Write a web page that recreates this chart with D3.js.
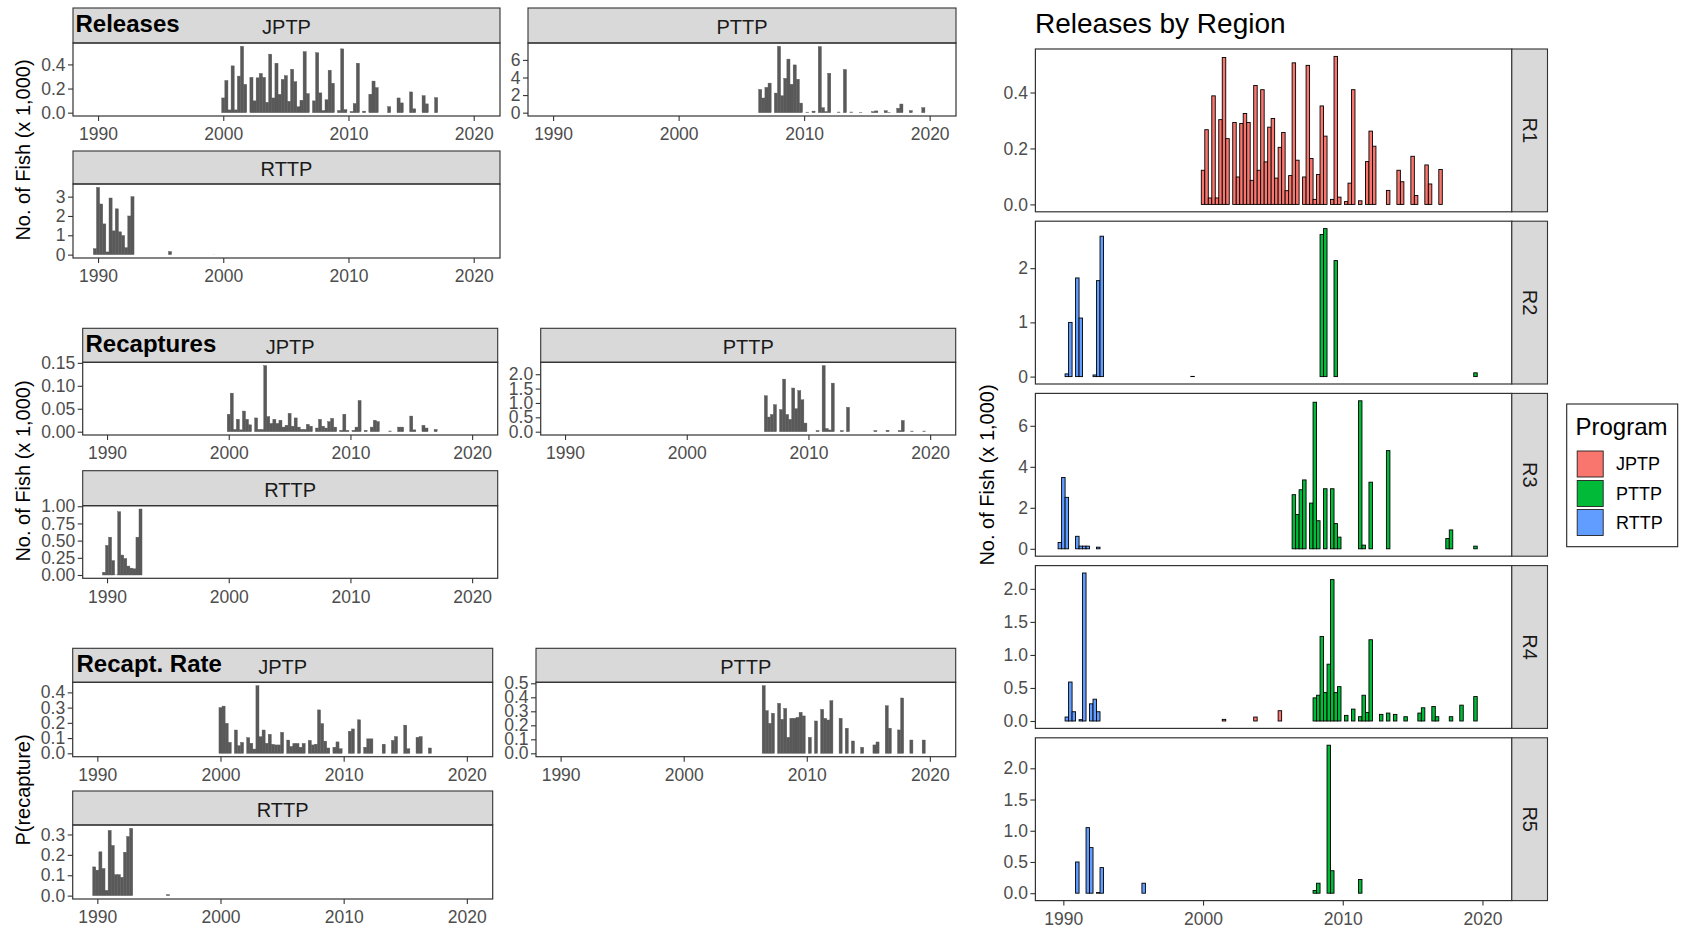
<!DOCTYPE html>
<html><head><meta charset="utf-8">
<script src="https://cdn.jsdelivr.net/npm/d3@7"></script>
<style>
body{margin:0;background:#fff;}
text{font-family:"Liberation Sans",Arial,Helvetica,sans-serif;}
</style></head><body>
<svg id="c" width="1687" height="930"></svg>
<script>
// ---------------- DATA ----------------
const xTickYears = [1990, 2000, 2010, 2020];
const programs = ["JPTP", "PTTP", "RTTP"];
const programColors = ["#F8766D", "#00BA38", "#619CFF"];
const regions = ["R1", "R2", "R3", "R4", "R5"];

// Releases by region (x 1,000 fish): [quarter time, value]
const relR1_JPTP = [[2000.0,0.122],[2000.25,0.267],[2000.5,0.023],[2000.75,0.388],[2001.0,0.023],[2001.25,0.303],[2001.5,0.525],[2001.75,0.235],
 [2002.25,0.293],[2002.5,0.098],[2002.75,0.289],[2003.0,0.325],[2003.25,0.293],[2003.5,0.086],[2003.75,0.425],[2004.0,0.122],[2004.25,0.41],
 [2004.5,0.152],[2004.75,0.276],[2005.0,0.307],[2005.25,0.094],[2005.5,0.204],[2005.75,0.257],[2006.0,0.049],[2006.25,0.103],[2006.5,0.506],
 [2006.75,0.158],[2007.25,0.098],[2007.5,0.497],[2007.75,0.164],[2008.0,0.018],[2008.25,0.107],[2008.5,0.352],[2008.75,0.244],[2009.25,0.018],
 [2009.5,0.529],[2009.75,0.026],[2010.25,0.01],[2010.5,0.076],[2010.75,0.41],[2011.25,0.013],[2011.75,0.153],[2012.0,0.262],[2012.25,0.208],
 [2013.25,0.05],[2014.0,0.122],[2014.25,0.081],[2015.0,0.172],[2015.25,0.032],[2016.0,0.141],[2016.25,0.073],[2017.0,0.125]];
const relR4_JPTP = [[2001.5,0.025],[2003.75,0.06],[2005.5,0.156]];
const relR2_RTTP = [[1990.25,0.05],[1990.5,1.0],[1991.0,1.82],[1991.25,1.08],[1992.25,0.03],[1992.5,1.77],[1992.75,2.59],[1999.25,0.004]];
const relR3_RTTP = [[1989.75,0.31],[1990.0,3.48],[1990.25,2.51],[1991.0,0.61],[1991.25,0.13],[1991.5,0.13],[1991.75,0.13],[1992.5,0.08]];
const relR4_RTTP = [[1990.25,0.06],[1990.5,0.59],[1990.75,0.14],[1991.25,0.02],[1991.5,2.24],[1992.0,0.26],[1992.25,0.33],[1992.5,0.14]];
const relR5_RTTP = [[1991.0,0.5],[1991.75,1.05],[1992.0,0.73],[1992.5,0.01],[1992.75,0.41],[1995.75,0.16]];
const relR2_PTTP = [[2008.5,2.62],[2008.75,2.73],[2009.5,2.14],[2019.5,0.07]];
const relR3_PTTP = [[2006.5,2.64],[2006.75,1.67],[2007.0,2.88],[2007.25,3.36],[2007.75,2.23],[2008.0,7.15],[2008.25,1.37],[2008.75,2.93],
 [2009.25,2.93],[2009.5,1.23],[2009.75,0.57],[2011.25,7.22],[2011.5,0.18],[2012.0,3.25],[2013.25,4.79],[2017.5,0.5],[2017.75,0.92],[2019.5,0.13]];
const relR4_PTTP = [[2008.0,0.35],[2008.25,0.39],[2008.5,1.28],[2008.75,0.43],[2009.0,0.86],[2009.25,2.14],[2009.5,0.43],[2009.75,0.52],
 [2010.25,0.085],[2010.75,0.18],[2011.25,0.065],[2011.5,0.39],[2011.75,0.13],[2012.0,1.23],[2012.75,0.1],[2013.25,0.12],[2013.75,0.1],
 [2014.5,0.065],[2015.5,0.12],[2015.75,0.2],[2016.5,0.22],[2016.75,0.065],[2017.75,0.065],[2018.5,0.24],[2019.5,0.37]];
const relR5_PTTP = [[2008.0,0.043],[2008.25,0.16],[2009.0,2.37],[2009.25,0.36],[2011.25,0.22]];

// Recaptures (x 1,000 fish)
const recJPTP = [[2000.0,0.038],[2000.25,0.084],[2000.5,0.005],[2000.75,0.027],[2001.0,0.004],[2001.25,0.045],[2001.5,0.027],[2001.75,0.015],
 [2002.25,0.03],[2002.5,0.005],[2002.75,0.005],[2003.0,0.144],[2003.25,0.033],[2003.5,0.018],[2003.75,0.027],[2004.0,0.018],[2004.25,0.025],
 [2004.5,0.01],[2004.75,0.014],[2005.0,0.04],[2005.25,0.012],[2005.5,0.03],[2005.75,0.01],[2006.0,0.005],[2006.25,0.005],[2006.5,0.016],
 [2006.75,0.012],[2007.25,0.008],[2007.5,0.027],[2007.75,0.012],[2008.0,0.008],[2008.25,0.022],[2008.5,0.029],[2008.75,0.01],[2009.25,0.003],
 [2009.5,0.038],[2009.75,0.003],[2010.25,0.003],[2010.5,0.01],[2010.75,0.068],[2011.25,0.003],[2011.75,0.01],[2012.0,0.025],[2012.25,0.022],
 [2013.25,0.002],[2014.0,0.01],[2014.25,0.01],[2015.0,0.034],[2015.25,0.004],[2016.0,0.014],[2016.25,0.008],[2017.0,0.005]];
const recPTTP = [[2006.5,1.25],[2006.75,0.51],[2007.0,0.6],[2007.25,0.94],[2007.75,0.77],[2008.0,1.83],[2008.25,0.6],[2008.5,0.43],[2008.75,1.52],
 [2009.0,0.8],[2009.25,1.43],[2009.5,1.11],[2009.75,0.3],[2010.75,0.04],[2011.25,2.3],[2011.5,0.11],[2011.75,0.06],[2012.0,1.69],[2012.75,0.04],
 [2013.25,0.85],[2015.5,0.04],[2016.5,0.05],[2017.5,0.04],[2017.75,0.39],[2018.5,0.03],[2019.5,0.03]];
const recRTTP = [[1989.75,0.04],[1990.0,0.43],[1990.25,0.55],[1990.5,0.21],[1990.75,0.004],[1991.0,0.92],[1991.25,0.29],[1991.5,0.24],
 [1991.75,0.13],[1992.0,0.1],[1992.25,0.09],[1992.5,0.55],[1992.75,0.96]];

// Recapture rate P(recapture)
const rateJPTP = [[2000.0,0.30],[2000.25,0.31],[2000.5,0.197],[2000.75,0.072],[2001.25,0.153],[2001.5,0.05],[2001.75,0.072],[2002.25,0.103],
 [2002.5,0.066],[2002.75,0.028],[2003.0,0.444],[2003.25,0.109],[2003.5,0.153],[2003.75,0.066],[2004.0,0.125],[2004.25,0.059],[2004.5,0.055],
 [2004.75,0.055],[2005.0,0.138],[2005.5,0.087],[2005.75,0.045],[2006.0,0.065],[2006.25,0.065],[2006.5,0.04],[2006.75,0.065],[2007.25,0.085],
 [2007.5,0.055],[2007.75,0.06],[2008.0,0.285],[2008.25,0.195],[2008.5,0.08],[2008.75,0.035],[2009.25,0.04],[2009.5,0.075],[2009.75,0.03],
 [2010.5,0.145],[2010.75,0.16],[2011.25,0.22],[2011.75,0.04],[2012.0,0.095],[2012.25,0.095],[2013.25,0.06],[2014.0,0.085],[2014.25,0.11],
 [2015.0,0.185],[2015.25,0.03],[2016.0,0.105],[2016.25,0.11],[2017.0,0.035]];
const ratePTTP = [[2006.5,0.483],[2006.75,0.305],[2007.0,0.214],[2007.25,0.286],[2007.75,0.357],[2008.0,0.243],[2008.25,0.321],[2008.5,0.114],
 [2008.75,0.25],[2009.0,0.25],[2009.25,0.257],[2009.5,0.293],[2009.75,0.267],[2010.25,0.114],[2010.75,0.231],[2011.25,0.314],[2011.5,0.25],
 [2011.75,0.238],[2012.0,0.376],[2012.75,0.25],[2013.25,0.179],[2013.75,0.088],[2014.5,0.043],[2015.5,0.06],[2015.75,0.081],[2016.5,0.34],
 [2016.75,0.179],[2017.5,0.167],[2017.75,0.395],[2018.5,0.095],[2019.5,0.095]];
const rateRTTP = [[1989.75,0.141],[1990.0,0.125],[1990.25,0.215],[1990.5,0.133],[1990.75,0.026],[1991.0,0.32],[1991.25,0.246],[1991.5,0.103],
 [1991.75,0.103],[1992.0,0.09],[1992.25,0.213],[1992.5,0.29],[1992.75,0.33],[1995.75,0.005]];

// Tick values
const ticksRelJPTP = [0, 0.2, 0.4], ticksRelPTTP = [0, 2, 4, 6], ticksRelRTTP = [0, 1, 2, 3];
const ticksRecJPTP = [0, 0.05, 0.10, 0.15], ticksRecPTTP = [0, 0.5, 1.0, 1.5, 2.0], ticksRecRTTP = [0, 0.25, 0.5, 0.75, 1.0];
const ticksRateJPTP = [0, 0.1, 0.2, 0.3, 0.4], ticksRatePTTP = [0, 0.1, 0.2, 0.3, 0.4, 0.5], ticksRateRTTP = [0, 0.1, 0.2, 0.3];
const ticksR1 = [0, 0.2, 0.4], ticksR2 = [0, 1, 2], ticksR3 = [0, 2, 4, 6], ticksR4 = [0, 0.5, 1.0, 1.5, 2.0], ticksR5 = [0, 0.5, 1.0, 1.5, 2.0];

// ---------------- DERIVED ----------------
function sumByTime(...lists){
  const m = d3.rollup(lists.flat(), v => d3.sum(v, d => d[1]), d => d[0]);
  return Array.from(m, ([t, v]) => [t, v]).sort((a, b) => a[0] - b[0]);
}
const relJPTP = sumByTime(relR1_JPTP, relR4_JPTP);
const relPTTP = sumByTime(relR2_PTTP, relR3_PTTP, relR4_PTTP, relR5_PTTP);
const relRTTP = sumByTime(relR2_RTTP, relR3_RTTP, relR4_RTTP, relR5_RTTP);

const regionData = [
  [[relR1_JPTP, 0]],
  [[relR2_RTTP, 2], [relR2_PTTP, 1]],
  [[relR3_RTTP, 2], [relR3_PTTP, 1]],
  [[relR4_RTTP, 2], [relR4_JPTP, 0], [relR4_PTTP, 1]],
  [[relR5_RTTP, 2], [relR5_PTTP, 1]]
];
const regionTicks = [ticksR1, ticksR2, ticksR3, ticksR4, ticksR5];
const regionFmt = [".1f", "d", "d", ".1f", ".1f"];

// ---------------- DRAW ----------------
const svg = d3.select("#c");
const XD = [1988.0, 2022.1];
const BORDER = "#333333";

function yScale(data, b, t){
  const m = d3.max(data, d => d[1]);
  return d3.scaleLinear().domain([-0.05 * m, 1.05 * m]).range([b, t]);
}
function styleAxis(g, fs){
  g.attr("font-family", null).attr("font-size", null);
  g.select(".domain").remove();
  g.selectAll(".tick line").attr("stroke", BORDER).attr("stroke-width", 1.1);
  g.selectAll(".tick text").attr("fill", "#4D4D4D").style("font-size", fs + "px");
}

function leftPanel(c){
  const g = svg.append("g");
  const x = d3.scaleLinear().domain(XD).range([c.x0, c.x1]);
  const y = yScale(c.data, c.b, c.t);
  g.append("rect").attr("x", c.x0).attr("y", c.st).attr("width", c.x1 - c.x0).attr("height", c.t - c.st)
    .attr("fill", "#D9D9D9").attr("stroke", BORDER).attr("stroke-width", 1.1);
  g.append("text").attr("x", (c.x0 + c.x1) / 2).attr("y", (c.st + c.t) / 2).attr("dy", "0.43em")
    .attr("text-anchor", "middle").style("font-size", "20px").attr("fill", "#1A1A1A").text(c.label);
  g.append("g").selectAll("rect").data(c.data).join("rect")
    .attr("x", d => x(d[0] - 0.125)).attr("width", d => x(d[0] + 0.125) - x(d[0] - 0.125))
    .attr("y", d => Math.min(y(d[1]), y(0))).attr("height", d => Math.abs(y(0) - y(d[1])))
    .attr("fill", "#595959").attr("stroke", "#595959")
    .attr("stroke-width", d => (y(0) - y(d[1]) > 1 ? 0.4 : 0));
  g.append("rect").attr("x", c.x0).attr("y", c.t).attr("width", c.x1 - c.x0).attr("height", c.b - c.t)
    .attr("fill", "none").attr("stroke", BORDER).attr("stroke-width", 1.2);
  const ax = g.append("g").attr("transform", `translate(0,${c.b})`)
    .call(d3.axisBottom(x).tickValues(xTickYears).tickFormat(d3.format("d")).tickSize(5).tickPadding(7));
  styleAxis(ax, 17.5);
  const ay = g.append("g").attr("transform", `translate(${c.x0},0)`)
    .call(d3.axisLeft(y).tickValues(c.ticks).tickFormat(d3.format(c.fmt)).tickSize(5).tickPadding(2.5));
  styleAxis(ay, 17.5);
  if (c.title){
    g.append("text").attr("x", c.title[1]).attr("y", c.title[2]).style("font-size", "24px")
      .attr("font-weight", "bold").attr("fill", "#000").text(c.title[0]);
  }
}

const leftPanels = [
  {label: programs[0], data: relJPTP, ticks: ticksRelJPTP, fmt: ".1f", x0: 73, x1: 500, st: 8, t: 43, b: 116, title: ["Releases", 75.5, 31.5]},
  {label: programs[1], data: relPTTP, ticks: ticksRelPTTP, fmt: "d", x0: 528, x1: 956, st: 8, t: 43, b: 116},
  {label: programs[2], data: relRTTP, ticks: ticksRelRTTP, fmt: "d", x0: 73, x1: 500, st: 151, t: 184, b: 258},
  {label: programs[0], data: recJPTP, ticks: ticksRecJPTP, fmt: ".2f", x0: 82.7, x1: 497.7, st: 328.3, t: 362.3, b: 435, title: ["Recaptures", 85.5, 351.5]},
  {label: programs[1], data: recPTTP, ticks: ticksRecPTTP, fmt: ".1f", x0: 540.7, x1: 955.7, st: 328.3, t: 362.3, b: 435},
  {label: programs[2], data: recRTTP, ticks: ticksRecRTTP, fmt: ".2f", x0: 82.7, x1: 497.7, st: 470.7, t: 505.7, b: 578.3},
  {label: programs[0], data: rateJPTP, ticks: ticksRateJPTP, fmt: ".1f", x0: 72.7, x1: 492.7, st: 648.3, t: 682.3, b: 756.7, title: ["Recapt. Rate", 76.5, 671.5]},
  {label: programs[1], data: ratePTTP, ticks: ticksRatePTTP, fmt: ".1f", x0: 536, x1: 955.7, st: 648.3, t: 682.3, b: 756.7},
  {label: programs[2], data: rateRTTP, ticks: ticksRateRTTP, fmt: ".1f", x0: 72.7, x1: 492.7, st: 791, t: 825, b: 899}
];
leftPanels.forEach(leftPanel);

// left y titles
[["No. of Fish (x 1,000)", 150], ["No. of Fish (x 1,000)", 471], ["P(recapture)", 790]].forEach(([txt, cy]) => {
  svg.append("text").attr("transform", `translate(23,${cy}) rotate(-90)`).attr("dy", "0.35em")
    .attr("text-anchor", "middle").style("font-size", "20px").attr("fill", "#000").text(txt);
});

// ---------------- RIGHT: Releases by Region ----------------
const RX0 = 1035.4, RX1 = 1511.8, SW = 35.7, RTOP = 49, RSTEP = 172.2, RH = 162.8;
const xr = d3.scaleLinear().domain(XD).range([RX0, RX1]);

svg.append("text").attr("x", 1035).attr("y", 33.3).style("font-size", "28px")
  .attr("fill", "#000").text("Releases by Region");

regions.forEach((r, i) => {
  const t = RTOP + i * RSTEP, b = t + RH;
  const g = svg.append("g");
  const all = regionData[i].flatMap(d => d[0]);
  const y = yScale(all, b, t);
  regionData[i].forEach(([data, pi]) => {
    g.append("g").selectAll("rect").data(data).join("rect")
      .attr("x", d => xr(d[0] - 0.125)).attr("width", d => xr(d[0] + 0.125) - xr(d[0] - 0.125))
      .attr("y", d => y(d[1])).attr("height", d => y(0) - y(d[1]))
      .attr("fill", programColors[pi]).attr("stroke", "#000").attr("stroke-width", 0.9);
  });
  g.append("rect").attr("x", RX0).attr("y", t).attr("width", RX1 - RX0).attr("height", RH)
    .attr("fill", "none").attr("stroke", BORDER).attr("stroke-width", 1.2);
  g.append("rect").attr("x", RX1).attr("y", t).attr("width", SW).attr("height", RH)
    .attr("fill", "#D9D9D9").attr("stroke", BORDER).attr("stroke-width", 1.1);
  g.append("text").attr("transform", `translate(${RX1 + SW / 2},${t + RH / 2}) rotate(90)`).attr("dy", "0.35em")
    .attr("text-anchor", "middle").style("font-size", "20px").attr("fill", "#1A1A1A").text(r);
  const ay = g.append("g").attr("transform", `translate(${RX0},0)`)
    .call(d3.axisLeft(y).tickValues(regionTicks[i]).tickFormat(d3.format(regionFmt[i])).tickSize(5).tickPadding(2.5));
  styleAxis(ay, 17.5);
  if (i === regions.length - 1){
    const ax = g.append("g").attr("transform", `translate(0,${b})`)
      .call(d3.axisBottom(xr).tickValues(xTickYears).tickFormat(d3.format("d")).tickSize(5).tickPadding(7));
    styleAxis(ax, 17.5);
  }
});

svg.append("text").attr("transform", `translate(987,475) rotate(-90)`).attr("dy", "0.35em")
  .attr("text-anchor", "middle").style("font-size", "20px").attr("fill", "#000").text("No. of Fish (x 1,000)");

// legend
const lg = svg.append("g");
lg.append("rect").attr("x", 1566.7).attr("y", 404).attr("width", 111).attr("height", 142.7)
  .attr("fill", "#fff").attr("stroke", "#222").attr("stroke-width", 1.1);
lg.append("text").attr("x", 1575.5).attr("y", 435).style("font-size", "24px").attr("fill", "#000").text("Program");
const keyY = [451, 480.5, 509.5];
programs.forEach((p, i) => {
  lg.append("rect").attr("x", 1577.2).attr("y", keyY[i]).attr("width", 26).attr("height", 26)
    .attr("fill", programColors[i]).attr("stroke", "#222").attr("stroke-width", 0.9);
  lg.append("text").attr("x", 1616).attr("y", keyY[i] + 13).attr("dy", "0.36em")
    .style("font-size", "18px").attr("fill", "#000").text(p);
});
</script>
</body></html>
